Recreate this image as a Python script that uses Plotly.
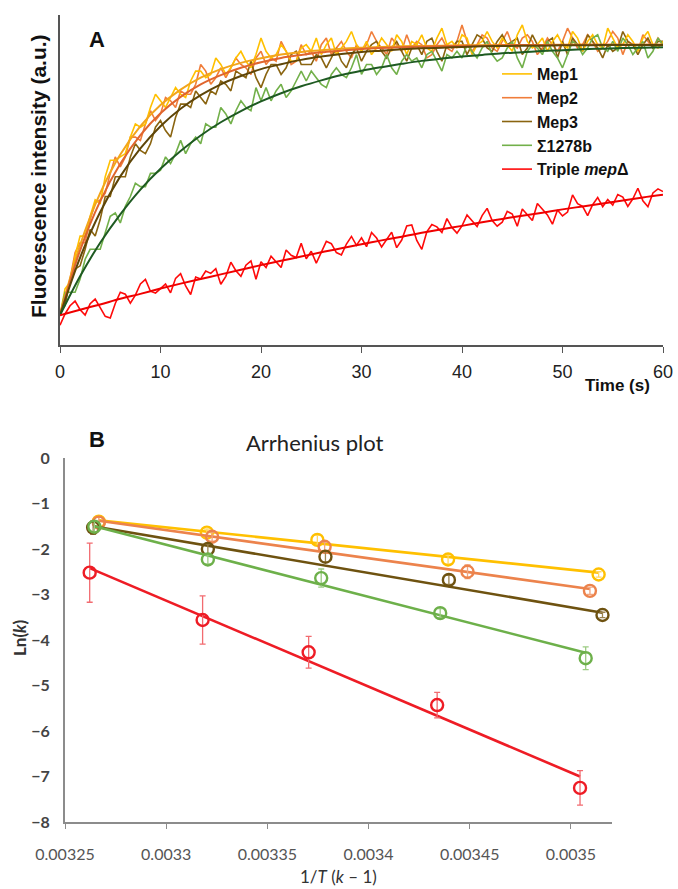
import plotly.graph_objects as go

W, H = 678, 889

# ---------------- Panel A data (fluorescence, a.u. scaled 0-100) ----------------
t_raw = [i * 0.5 for i in range(121)]
t_fit = list(range(0, 61, 2))

mep1_raw = [9, 17, 19, 27, 33, 33, 39, 44, 43, 51,
            56, 56, 57, 58, 63, 67, 66, 67, 72, 76,
            74, 72, 75, 78, 76, 75, 80, 83, 83, 81,
            82, 87, 85, 82, 84, 87, 89, 86, 84, 88,
            93, 89, 87, 88, 91, 89, 86, 86, 90, 91,
            89, 93, 88, 91, 93, 88, 90, 92, 95, 91,
            89, 92, 88, 90, 93, 91, 89, 94, 92, 88,
            92, 91, 94, 90, 89, 93, 96, 91, 92, 90,
            94, 93, 88, 91, 92, 95, 92, 90, 93, 91,
            89, 94, 97, 92, 90, 91, 93, 89, 92, 94,
            91, 90, 95, 93, 89, 92, 94, 91, 90, 96,
            93, 90, 91, 94, 92, 89, 93, 95, 91, 90,
            92]
mep2_raw = [10, 13, 20, 28, 31, 31, 38, 43, 44, 46,
            52, 57, 54, 57, 63, 63, 62, 67, 71, 68,
            70, 75, 74, 72, 77, 76, 76, 79, 85, 83,
            79, 81, 84, 81, 84, 87, 85, 84, 82, 87,
            89, 85, 87, 86, 92, 89, 85, 86, 91, 88,
            89, 86, 91, 93, 88, 90, 92, 89, 87, 91,
            89, 91, 95, 92, 90, 88, 93, 91, 89, 94,
            90, 92, 91, 87, 88, 91, 93, 90, 89, 92,
            97, 92, 89, 91, 94, 93, 90, 89, 92, 95,
            91, 90, 93, 94, 92, 88, 90, 93, 91, 89,
            92, 96, 93, 90, 91, 94, 92, 89, 90, 92,
            95, 93, 88, 92, 91, 89, 94, 92, 90, 93,
            91]
mep3_raw = [10, 12, 20, 23, 24, 29, 35, 33, 38, 45,
            45, 51, 51, 51, 57, 61, 59, 58, 61, 66,
            68, 65, 63, 69, 73, 73, 72, 77, 75, 73,
            77, 76, 80, 79, 77, 83, 82, 81, 86, 81,
            78, 82, 85, 85, 82, 84, 88, 89, 85, 85,
            85, 88, 87, 84, 87, 90, 86, 84, 88, 90,
            86, 89, 91, 92, 89, 87, 90, 92, 89, 86,
            90, 91, 88, 92, 93, 89, 86, 91, 90, 92,
            92, 88, 91, 94, 93, 90, 89, 92, 94, 91,
            92, 93, 88, 90, 94, 91, 89, 92, 93, 87,
            92, 88, 93, 91, 89, 94, 92, 90, 87, 91,
            89, 90, 95, 92, 91, 88, 91, 93, 90, 92,
            92]
sig_raw = [9, 16, 16, 16, 20, 26, 29, 29, 29, 34,
           39, 40, 37, 42, 45, 49, 48, 48, 52, 52,
           53, 57, 55, 58, 62, 58, 61, 63, 61, 67,
           66, 66, 72, 70, 67, 71, 74, 72, 71, 78,
           74, 78, 74, 77, 79, 75, 77, 80, 83, 80,
           83, 81, 79, 78, 82, 84, 82, 81, 84, 88,
           82, 85, 85, 82, 84, 88, 84, 82, 86, 88,
           86, 87, 84, 88, 89, 86, 83, 88, 87, 89,
           87, 91, 89, 87, 90, 92, 88, 86, 87, 90,
           92, 87, 84, 89, 91, 90, 88, 92, 89, 87,
           84, 88, 92, 91, 88, 90, 93, 94, 90, 89,
           92, 89, 93, 91, 88, 90, 92, 87, 89, 93,
           91]
trip_raw = [6.0, 9.4, 11.9, 13.3, 10.7, 9.1, 12.5, 13.9, 11.3, 8.7,
            8.2, 12.6, 16.0, 15.4, 12.7, 15.1, 18.5, 19.9, 16.3, 15.7,
            17.1, 18.5, 15.8, 20.2, 21.6, 17.9, 15.3, 20.6, 20.0, 22.4,
            21.7, 23.1, 18.4, 20.8, 25.1, 22.5, 20.8, 24.2, 25.5, 19.9,
            25.2, 23.5, 26.9, 25.2, 23.5, 28.8, 27.2, 26.5, 30.8, 26.1,
            28.4, 24.8, 28.1, 31.4, 30.7, 28.0, 27.3, 30.6, 32.9, 30.2,
            32.5, 29.8, 34.1, 32.4, 29.7, 32.0, 34.2, 29.5, 31.8, 36.1,
            36.4, 31.7, 29.0, 34.3, 36.5, 35.8, 34.1, 38.3, 35.6, 33.9,
            36.1, 39.4, 37.7, 35.9, 39.2, 41.4, 37.7, 36.0, 37.2, 40.5,
            39.7, 36.0, 41.2, 39.5, 37.7, 42.9, 41.1, 39.4, 36.6, 40.9,
            39.1, 40.3, 45.5, 42.8, 42.0, 39.2, 42.5, 44.7, 41.9, 44.1,
            42.4, 45.6, 44.8, 42.0, 44.3, 47.5, 43.7, 41.9, 46.1, 47.3,
            46.5]

mep1_fit = [9.0, 30.3, 46.0, 57.7, 66.3, 72.7, 77.4, 81.0, 83.6, 85.5, 86.9,
            88.0, 88.8, 89.3, 89.8, 90.1, 90.3, 90.5, 90.6, 90.7, 90.8,
            90.8, 90.9, 90.9, 90.9, 91.0, 91.0, 91.0, 91.0, 91.0, 91.0]
mep2_fit = [9.0, 28.7, 43.6, 54.9, 63.6, 70.2, 75.2, 79.0, 81.8, 84.0, 85.7,
            87.0, 87.9, 88.7, 89.2, 89.7, 90.0, 90.2, 90.4, 90.5, 90.7,
            90.7, 90.8, 90.9, 90.9, 90.9, 91.0, 91.0, 91.0, 91.0, 91.0]
mep3_fit = [9.0, 26.5, 40.3, 51.1, 59.6, 66.3, 71.6, 75.7, 79.0, 81.5, 83.6,
            85.1, 86.4, 87.4, 88.2, 88.8, 89.2, 89.6, 89.9, 90.1, 90.3,
            90.5, 90.6, 90.7, 90.7, 90.8, 90.8, 90.9, 90.9, 90.9, 90.9]
sig_fit = [9.0, 20.8, 31.0, 39.6, 47.1, 53.4, 58.8, 63.5, 67.5, 70.9, 73.8,
           76.3, 78.4, 80.2, 81.8, 83.1, 84.2, 85.2, 86.1, 86.8, 87.4,
           87.9, 88.4, 88.7, 89.1, 89.3, 89.6, 89.8, 90.0, 90.1, 90.2]
trip_fit = [9.0, 10.7, 12.3, 14.0, 15.5, 17.1, 18.6, 20.0, 21.4, 22.8, 24.2,
            25.5, 26.8, 28.1, 29.3, 30.5, 31.7, 32.8, 34.0, 35.1, 36.1,
            37.2, 38.2, 39.2, 40.1, 41.1, 42.0, 42.9, 43.8, 44.7, 45.5]

time_ticks = [0, 10, 20, 30, 40, 50, 60]

# ---------------- Panel B data (Arrhenius) ----------------
invT_mep1 = [0.0032667, 0.0033201, 0.0033747, 0.0034393, 0.0035137]
lnk_mep1 = [-1.40, -1.64, -1.80, -2.23, -2.56]
err_mep1 = [0.12, 0.08, 0.10, 0.10, 0.06]

invT_mep2 = [0.0032667, 0.0033227, 0.0033783, 0.0034489, 0.0035094]
lnk_mep2 = [-1.42, -1.73, -1.95, -2.50, -2.92]
err_mep2 = [0.12, 0.10, 0.10, 0.15, 0.08]

invT_mep3 = [0.0032639, 0.0033206, 0.0033787, 0.0034397, 0.0035156]
lnk_mep3 = [-1.53, -2.00, -2.17, -2.68, -3.45]
err_mep3 = [0.15, 0.10, 0.12, 0.10, 0.06]

invT_sig = [0.0032645, 0.0033206, 0.0033766, 0.0034354, 0.0035073]
lnk_sig = [-1.51, -2.23, -2.64, -3.41, -4.40]
err_sig = [0.12, 0.10, 0.20, 0.10, 0.25]

invT_trip = [0.0032622, 0.0033180, 0.0033704, 0.0034339, 0.0035045]
lnk_trip = [-2.52, -3.56, -4.27, -5.43, -7.25]
err_trip = [0.65, 0.53, 0.35, 0.28, 0.38]

fitx_mep1, fity_mep1 = [0.0032667, 0.0035137], [-1.37, -2.52]
fitx_mep2, fity_mep2 = [0.0032667, 0.0035094], [-1.38, -2.88]
fitx_mep3, fity_mep3 = [0.0032639, 0.0035156], [-1.50, -3.40]
fitx_sig, fity_sig = [0.0032645, 0.0035073], [-1.50, -4.28]
fitx_trip, fity_trip = [0.0032622, 0.0035045], [-2.42, -7.00]

invT_ticks = [0.00325, 0.0033, 0.00335, 0.0034, 0.00345, 0.0035]
invT_ticktext = ["0.00325", "0.0033", "0.00335", "0.0034", "0.00345", "0.0035"]
lnk_ticks = [0, -1, -2, -3, -4, -5, -6, -7, -8]

# ---------------- styles ----------------
names = ["Mep1", "Mep2", "Mep3", "Σ1278b", "Triple <i>mep</i>Δ"]
raw_col = ["#FFC000", "#F07D3A", "#8A6410", "#72B04A", "#FF0A0A"]
fit_col = ["#F2A51C", "#E0652E", "#5E4508", "#1E5A22", "#F00000"]
b_col = ["#FFC000", "#EC834C", "#6E5210", "#6DB04A", "#EE1C25"]
b_err = ["#FFD766", "#F2A57E", "#9C8450", "#9CCB82", "#F26B70"]

raws = [mep1_raw, mep2_raw, mep3_raw, sig_raw, trip_raw]
fits = [mep1_fit, mep2_fit, mep3_fit, sig_fit, trip_fit]
draw_order = [1, 2, 0, 3, 4]

FONT_A = "Liberation Sans, Arial, Helvetica, sans-serif"
FONT_B = "Lato, Carlito, Calibri, sans-serif"

fig = go.Figure()

for i in draw_order:
    vals = raws[i]
    fig.add_trace(go.Scatter(
        x=t_raw[:len(vals)], y=vals, mode="lines", name=names[i],
        legendgroup=f"g{i}", legendrank=i + 1,
        line=dict(color=raw_col[i], width=1.6),
        xaxis="x", yaxis="y"))

for i, vals in enumerate(fits):
    fig.add_trace(go.Scatter(
        x=t_fit[:len(vals)], y=vals, mode="lines", showlegend=False,
        line=dict(color=fit_col[i], width=2.0, shape="spline"),
        xaxis="x", yaxis="y"))

b_sets = [
    (invT_mep1, lnk_mep1, err_mep1, fitx_mep1, fity_mep1),
    (invT_mep2, lnk_mep2, err_mep2, fitx_mep2, fity_mep2),
    (invT_mep3, lnk_mep3, err_mep3, fitx_mep3, fity_mep3),
    (invT_sig, lnk_sig, err_sig, fitx_sig, fity_sig),
    (invT_trip, lnk_trip, err_trip, fitx_trip, fity_trip),
]
for i, (xs, ys, es, fx, fy) in enumerate(b_sets):
    fig.add_trace(go.Scatter(
        x=fx, y=fy, mode="lines", showlegend=False,
        line=dict(color=b_col[i], width=2.6),
        xaxis="x2", yaxis="y2"))
    fig.add_trace(go.Scatter(
        x=xs, y=ys, mode="markers", showlegend=False,
        marker=dict(symbol="circle-open", size=12, color=b_col[i],
                    line=dict(width=2.4, color=b_col[i])),
        error_y=dict(type="data", array=es, visible=True,
                     color=b_err[i], thickness=1.3, width=3),
        xaxis="x2", yaxis="y2"))


def px(x):
    return x / W


def py(y):
    return 1 - y / H


annotations = [
    dict(text="<b>A</b>", x=px(97), y=py(40), font=dict(size=22, color="#111", family=FONT_A)),
    dict(text="<b>Fluorescence intensity (a.u.)</b>", x=px(38), y=py(176), textangle=-90,
         font=dict(size=21, color="#111", family=FONT_A)),
    dict(text="<b>Time (s)</b>", x=px(617), y=py(385), font=dict(size=17, color="#111", family=FONT_A)),
    dict(text="<b>B</b>", x=px(97), y=py(439), font=dict(size=22, color="#111", family=FONT_A)),
    dict(text="Arrhenius plot", x=px(315), y=py(443), font=dict(size=22, color="#222", family=FONT_B)),
    dict(text="<b>Ln(<i>k</i>)</b>", x=px(19), y=py(638), textangle=-90,
         font=dict(size=17, color="#333", family=FONT_B)),
    dict(text="1/<i>T</i> (<i>k</i> – 1)", x=px(338), y=py(876),
         font=dict(size=17, color="#333", family=FONT_B)),
]
for a in annotations:
    a.update(xref="paper", yref="paper", xanchor="center", yanchor="middle", showarrow=False)

fig.update_layout(
    width=W, height=H,
    margin=dict(l=0, r=0, t=0, b=0, pad=0, autoexpand=False),
    paper_bgcolor="white", plot_bgcolor="white",
    showlegend=True,
    legend=dict(x=px(497), y=py(57), xanchor="left", yanchor="top",
                bgcolor="rgba(0,0,0,0)", borderwidth=0,
                font=dict(family=FONT_A, size=16, color="#111", weight="bold"),
                tracegroupgap=8, itemwidth=30, traceorder="normal"),
    xaxis=dict(domain=[px(60), px(663)], range=[0, 60], anchor="y", automargin=False,
               showline=True, linecolor="#555", linewidth=1.5,
               ticks="outside", ticklen=6, tickcolor="#555", tickwidth=1.2,
               tickvals=time_ticks, ticklabelstandoff=4,
               tickfont=dict(family=FONT_A, size=18, color="#222"),
               showgrid=False, zeroline=False),
    yaxis=dict(domain=[py(345), py(15)], range=[0, 100], anchor="x", automargin=False,
               showline=True, linecolor="#555", linewidth=1.5,
               showticklabels=False, ticks="", showgrid=False, zeroline=False),
    xaxis2=dict(domain=[px(65), px(612)], range=[0.00325, 0.0035203], anchor="y2",
                automargin=False,
                showline=True, linecolor="#8c8c8c", linewidth=2,
                ticks="outside", ticklen=5, tickcolor="#8c8c8c", tickwidth=1.2,
                tickvals=invT_ticks, ticktext=invT_ticktext, ticklabelstandoff=12,
                tickfont=dict(family=FONT_B, size=16, color="#555"),
                showgrid=False, zeroline=False),
    yaxis2=dict(domain=[py(822), py(458)], range=[-8, 0], anchor="x2", automargin=False,
                showline=True, linecolor="#8c8c8c", linewidth=2,
                ticks="", tickvals=lnk_ticks, ticklabelstandoff=10,
                tickfont=dict(family=FONT_B, size=16, color="#444", weight="bold"),
                showgrid=False, zeroline=False),
    annotations=annotations,
)

fig.write_html("out.html", config={"displayModeBar": False},
               post_script="document.body.style.margin='0';")
